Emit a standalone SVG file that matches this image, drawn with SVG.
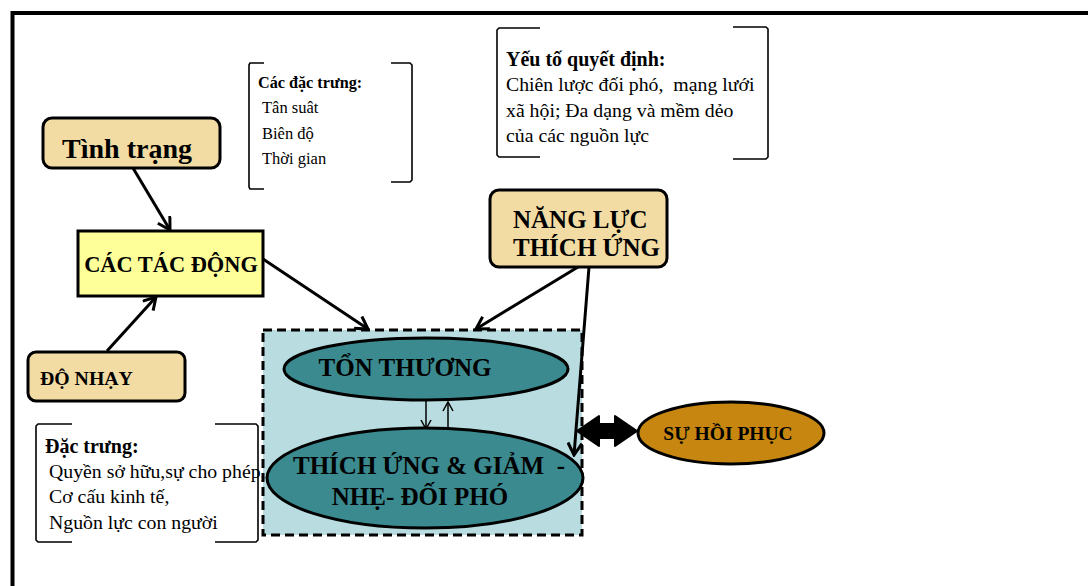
<svg xmlns="http://www.w3.org/2000/svg" width="1088" height="586" viewBox="0 0 1088 586">
<defs>
<style>
.frame{fill:none;stroke:#000;stroke-width:4}
.tan{fill:#F3DCA3;stroke:#000;stroke-width:3}
.yel{fill:#FFFF99;stroke:#000;stroke-width:3}
.teal{fill:#3B8A90;stroke:#000;stroke-width:3}
.gold{fill:#C6860F;stroke:#000;stroke-width:3}
.zone{fill:#B9DCE0;stroke:#000;stroke-width:3;stroke-dasharray:9 5}
.br{fill:none;stroke:#000;stroke-width:1.6}
.t{font-family:"Liberation Serif","Times New Roman",serif;fill:#000}
.b{font-weight:bold}
.con{stroke:#000;stroke-width:3;fill:none}
.thin{stroke:#000;stroke-width:1.5;fill:none}
</style>
<marker id="ah" markerUnits="userSpaceOnUse" viewBox="0 0 16 16" refX="14" refY="8" markerWidth="16" markerHeight="16" orient="auto">
<path d="M2,1 L14,8 L2,15" fill="none" stroke="#000" stroke-width="3"/>
</marker>
<marker id="ahs" markerUnits="userSpaceOnUse" viewBox="0 0 12 12" refX="11" refY="6" markerWidth="12" markerHeight="12" orient="auto">
<path d="M2,1 L11,6 L2,11" fill="none" stroke="#000" stroke-width="1.5"/>
</marker>
</defs>
<rect x="0" y="0" width="1088" height="586" fill="#fff"/>
<path class="frame" d="M12.5,600 L12.5,13 L1100,13"/>

<g id="zone"><rect class="zone" x="263" y="330" width="319" height="205"/></g>

<g id="connectors">
<line class="con" x1="133" y1="168" x2="170" y2="230" marker-end="url(#ah)"/>
<line class="con" x1="107" y1="351" x2="156" y2="297" marker-end="url(#ah)"/>
<line class="con" x1="263" y1="259" x2="368" y2="329" marker-end="url(#ah)"/>
<line class="con" x1="578" y1="267" x2="476" y2="329" marker-end="url(#ah)"/>
<line class="con" x1="589" y1="267" x2="574" y2="455" marker-end="url(#ah)"/>
<line class="thin" x1="426" y1="401" x2="426" y2="429" marker-end="url(#ahs)"/>
<line class="thin" x1="448" y1="428" x2="448" y2="402" marker-end="url(#ahs)"/>
<path d="M577,431 L599,416 L599,424 L615,424 L615,416 L637,431 L615,446 L615,438 L599,438 L599,446 Z" fill="#000" stroke="#000" stroke-width="2" stroke-linejoin="round"/>
</g>

<g id="tinh-trang">
<rect class="tan" x="43" y="118" width="177" height="50" rx="9"/>
<text class="t b" x="127" y="158" font-size="28" text-anchor="middle">Tình trạng</text>
</g>

<g id="cac-dac-trung">
<path class="br" d="M264,63 L250,63 L249,65 L249,187 L250,189 L264,189"/>
<path class="br" d="M391,63 L410,63 L412,65 L412,180 L410,182 L391,182"/>
<text class="t b" x="258" y="88" font-size="16.2">Các đặc trưng:</text>
<text class="t" x="262" y="113" font-size="16.5">Tân suât</text>
<text class="t" x="262" y="139" font-size="16.5">Biên độ</text>
<text class="t" x="262" y="164" font-size="16.5">Thời gian</text>
</g>

<g id="yeu-to">
<path class="br" d="M540,28 L499,28 L497,30 L497,155 L499,157 L540,157"/>
<path class="br" d="M733,27 L766,27 L768,29 L768,157 L766,159 L733,159"/>
<text class="t b" x="506" y="66" font-size="20">Yếu tố quyết định:</text>
<text class="t" x="506" y="91" font-size="19.8" xml:space="preserve">Chiên lược đối phó,  mạng lưới</text>
<text class="t" x="506" y="117" font-size="19.8">xã hội; Đa dạng và mềm dẻo</text>
<text class="t" x="506" y="142" font-size="19.8">của các nguồn lực</text>
</g>

<g id="cac-tac-dong">
<rect class="yel" x="78" y="231" width="185" height="65"/>
<text class="t b" x="171" y="272" font-size="22.4" text-anchor="middle">CÁC TÁC ĐỘNG</text>
</g>

<g id="do-nhay">
<rect class="tan" x="28" y="352" width="157" height="49" rx="8"/>
<text class="t b" x="40" y="385" font-size="19.8">ĐỘ NHẠY</text>
</g>

<g id="dac-trung">
<path class="br" d="M72,424 L38,424 L36,426 L36,540 L38,542 L72,542"/>
<path class="br" d="M215,424 L256,424 L258,426 L258,540 L256,542 L215,542"/>
<text class="t b" x="45" y="453" font-size="20">Đặc trưng:</text>
<text class="t" x="49" y="478" font-size="19.8">Quyền sở hữu,sự cho phép,</text>
<text class="t" x="49" y="503" font-size="19.8">Cơ cấu kinh tế,</text>
<text class="t" x="49" y="529" font-size="19.8">Nguồn lực con người</text>
</g>

<g id="nang-luc">
<rect class="tan" x="490" y="190" width="177" height="77" rx="9"/>
<text class="t b" x="513" y="228" font-size="25">NĂNG LỰC</text>
<text class="t b" x="513" y="256" font-size="25">THÍCH ỨNG</text>
</g>

<g id="ton-thuong">
<ellipse class="teal" cx="426" cy="369" rx="142" ry="31"/>
<text class="t b" x="405" y="376" font-size="25" text-anchor="middle">TỔN THƯƠNG</text>
</g>

<g id="thich-ung">
<ellipse class="teal" cx="425" cy="478" rx="158" ry="50"/>
<text class="t b" x="293" y="474" font-size="25" xml:space="preserve">THÍCH ỨNG &amp; GIẢM  -</text>
<text class="t b" x="420" y="505" font-size="25" text-anchor="middle">NHẸ- ĐỐI PHÓ</text>
</g>

<g id="su-hoi-phuc">
<ellipse class="gold" cx="731" cy="433" rx="93" ry="31"/>
<text class="t b" x="728" y="440" font-size="19.5" text-anchor="middle">SỰ HỒI PHỤC</text>
</g>
</svg>
